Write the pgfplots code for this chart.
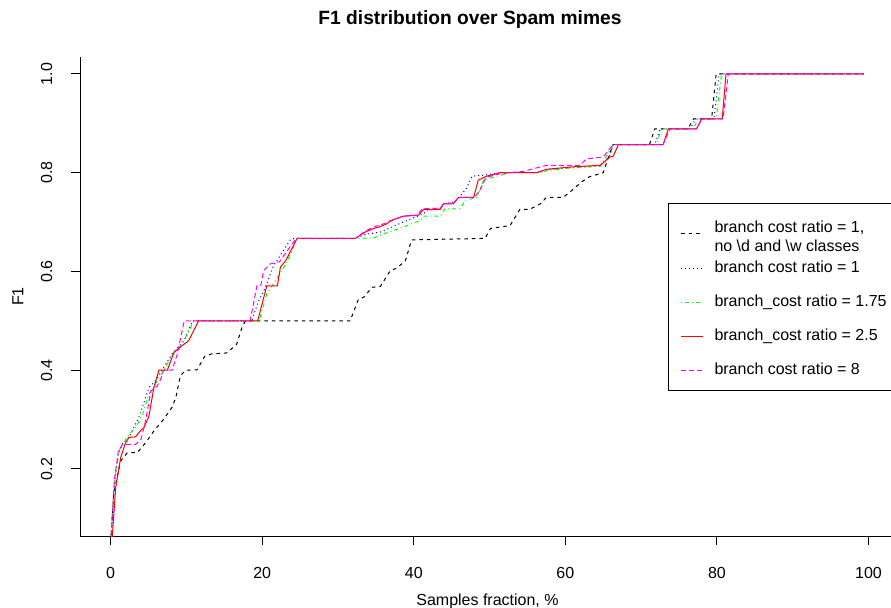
\documentclass[border=0pt]{standalone}
\usepackage{pgfplots}
\pgfplotsset{compat=1.18}
\usepackage{fontspec}
\setmainfont{Liberation Sans}
\definecolor{rblack}{RGB}{0,0,0}
\definecolor{rblue}{RGB}{0,0,255}
\definecolor{rgreen}{RGB}{0,255,0}
\definecolor{rred}{RGB}{255,0,0}
\definecolor{rmagenta}{RGB}{255,0,255}
\begin{document}
\begin{tikzpicture}
\path[use as bounding box, clip] (0,0) rectangle (891bp,608bp);
\begin{axis}[
  at={(80bp,72bp)}, anchor=south west,
  scale only axis, width=815bp, height=479bp,
  xmin=-4.05, xmax=103.5, ymin=0.0643, ymax=1.0344,
  axis lines*=left,
  axis line style={line width=1bp, black},
  tick align=outside, major tick length=9bp,
  tick style={line width=1bp, black},
  font=\fontsize{16bp}{19bp}\selectfont,
  xtick={0,20,40,60,80,100}, xticklabels={0,20,40,60,80,100},
  ytick={0.2,0.4,0.6,0.8,1.0}, yticklabels={0.2,0.4,0.6,0.8,1.0},
  xticklabel style={anchor=base, inner sep=0pt},
  xticklabel shift=33.5bp,
  yticklabel style={rotate=90, anchor=base, inner sep=0pt},
  yticklabel shift=19bp,
  xlabel={Samples fraction, \%},
  xlabel style={at={(axis description cs:0.5,-0.14509)}, anchor=base, inner sep=0pt},
  ylabel={F1},
  ylabel style={at={(axis description cs:-0.06933,0.5)}, anchor=base, inner sep=0pt},
  title={F1 distribution over Spam mimes},
  title style={at={(axis description cs:0.4785,1.0543)}, anchor=base, inner sep=0pt, font=\fontsize{19.2bp}{23bp}\selectfont\bfseries},
  legend style={at={(axis description cs:0.72147,0.6952)}, anchor=north west,
    draw=black, line width=1bp, fill=white, inner xsep=12bp, inner ysep=8bp,
    row sep=14bp, column sep=11bp,
    cells={anchor=base west},
    nodes={inner sep=0pt, text height=12bp, text depth=8bp, anchor=base west}},
  legend image code/.code={\draw[#1] (0bp,0bp) -- (22bp,0bp);},
  legend image post style={yshift=4bp},
]
\addplot[rblack, line width=1bp, dash pattern=on 3.5bp off 4bp, legend image post style={yshift=-5.5bp}] coordinates {
(0,0.05) (0.4,0.15) (1.3,0.216) (2.2,0.233) (3.5,0.233) (4.6,0.253) (5.7,0.277) (7.0,0.301) (8.1,0.325) (8.6,0.345) (9.2,0.389) (9.9,0.4) (11.4,0.401) (12.4,0.428) (13.3,0.433) (15.3,0.435) (16.6,0.452) (17.4,0.49) (17.8,0.5)
(31.6,0.5) (32.7,0.544) (33.4,0.548) (34.5,0.568) (35.6,0.57) (36.9,0.602) (37.8,0.607) (38.9,0.622) (39.7,0.664) (49.4,0.667) (50.1,0.687) (52.7,0.693) (54.0,0.726) (55.3,0.726) (56.7,0.737) (57.5,0.75) (59.7,0.75) (61.0,0.766) (62.1,0.781) (63.2,0.792) (65.0,0.8) (65.7,0.832) (66.3,0.857) (71.1,0.857) (71.8,0.889) (76.2,0.889) (76.9,0.909) (79.3,0.909) (79.9,1.0) (99.4,1.0)
};
\addlegendentry[text height=21bp, text depth=14bp]{\begin{tabular}[t]{@{}l@{}}branch cost ratio = 1,\\no \textbackslash d and \textbackslash w classes\end{tabular}}
\addplot[rblue, line width=1bp, dash pattern=on 1bp off 3bp] coordinates {
(0,0.05) (0.5,0.17) (1.0,0.23) (1.54,0.25) (2.4,0.264) (3.7,0.304) (5.05,0.365) (5.9,0.379) (8.1,0.433) (9.7,0.46) (10.8,0.5)
(18.6,0.5) (19.5,0.54) (20.2,0.56) (21.5,0.612) (23.7,0.664) (24.2,0.667) (32.3,0.667) (33.6,0.675) (35.6,0.68) (38.6,0.7) (41.3,0.717) (41.7,0.724) (43.5,0.727) (44.0,0.737) (45.3,0.74) (46.0,0.75) (47.0,0.77) (47.7,0.793) (49.2,0.795) (51.4,0.8) (56.2,0.8) (57.5,0.806) (61.0,0.811) (64.6,0.815) (65.9,0.835) (66.3,0.857) (71.8,0.857) (72.5,0.889) (76.5,0.889) (77.2,0.909) (79.6,0.909) (80.3,1.0) (99.4,1.0)
};
\addlegendentry{branch cost ratio = 1}
\addplot[rgreen, line width=1bp, dash pattern=on 1bp off 3bp on 4bp off 3bp] coordinates {
(0,0.05) (0.5,0.18) (1.2,0.24) (1.6,0.25) (2.4,0.27) (3.3,0.284) (4.2,0.31) (5.0,0.35) (5.8,0.37) (7.0,0.4) (8.1,0.43) (9.5,0.455) (11.0,0.5)
(19.6,0.5) (20.6,0.555) (21.5,0.575) (23.3,0.62) (24.6,0.667) (32.5,0.667) (34.7,0.668) (36.0,0.676) (38.6,0.69) (40.8,0.703) (41.3,0.712) (43.5,0.712) (44.1,0.727) (46.1,0.727) (46.8,0.744) (48.3,0.75) (49.2,0.785) (50.5,0.791) (52.7,0.8) (56.7,0.8) (57.5,0.804) (60.2,0.809) (64.6,0.813) (65.9,0.846) (66.3,0.857) (72.0,0.857) (72.7,0.889) (76.9,0.889) (77.5,0.909) (79.9,0.909) (80.6,1.0) (99.4,1.0)
};
\addlegendentry{branch\_cost ratio = 1.75}
\addplot[rred, line width=1bp] coordinates {
(0.15,0.05) (0.66,0.162) (1.32,0.223) (1.88,0.25) (2.41,0.264) (3.29,0.265) (3.73,0.274) (4.39,0.284) (5.05,0.307) (5.7,0.365) (6.36,0.4) (7.47,0.4) (8.34,0.436) (9.45,0.45) (10.3,0.46) (11.6,0.5)
(19.4,0.5) (20.6,0.571) (22.0,0.571) (22.4,0.609) (23.1,0.622) (24.6,0.667) (32.3,0.667) (33.6,0.68) (34.7,0.687) (35.4,0.69) (36.5,0.697) (36.9,0.703) (38.6,0.712) (40.6,0.714) (41.3,0.726) (43.5,0.726) (43.9,0.737) (45.2,0.737) (45.9,0.75) (47.9,0.75) (48.5,0.785) (49.6,0.793) (51.4,0.8) (56.2,0.8) (57.5,0.807) (61.0,0.812) (64.6,0.815) (65.9,0.832) (66.3,0.833) (67.0,0.857) (72.9,0.857) (73.6,0.889) (77.3,0.889) (78.0,0.909) (80.7,0.909) (81.2,1.0) (99.4,1.0)
};
\addlegendentry{branch\_cost ratio = 2.5}
\addplot[rmagenta, line width=1bp, dash pattern=on 5bp off 3bp] coordinates {
(0,0.05) (0.5,0.18) (1.0,0.235) (1.54,0.25) (3.3,0.25) (4.0,0.26) (4.6,0.297) (5.3,0.358) (6.15,0.368) (6.6,0.382) (7.0,0.4) (8.1,0.4) (8.8,0.433) (9.7,0.5)
(18.4,0.5) (19.3,0.571) (19.8,0.571) (20.2,0.602) (21.0,0.615) (22.3,0.62) (23.2,0.64) (24.5,0.667) (32.3,0.667) (33.6,0.682) (34.7,0.69) (36.5,0.699) (38.6,0.712) (40.5,0.714) (41.1,0.727) (43.5,0.728) (43.9,0.737) (45.2,0.739) (45.9,0.75) (48.0,0.75) (48.7,0.764) (49.5,0.79) (51.0,0.797) (52.5,0.8) (54.5,0.803) (57.5,0.815) (61.9,0.815) (62.8,0.828) (65.0,0.832) (66.3,0.857) (72.9,0.857) (73.8,0.889) (77.3,0.889) (78.0,0.909) (80.8,0.909) (81.5,1.0) (99.4,1.0)
};
\addlegendentry{branch cost ratio = 8}
\end{axis}
\end{tikzpicture}
\end{document}
